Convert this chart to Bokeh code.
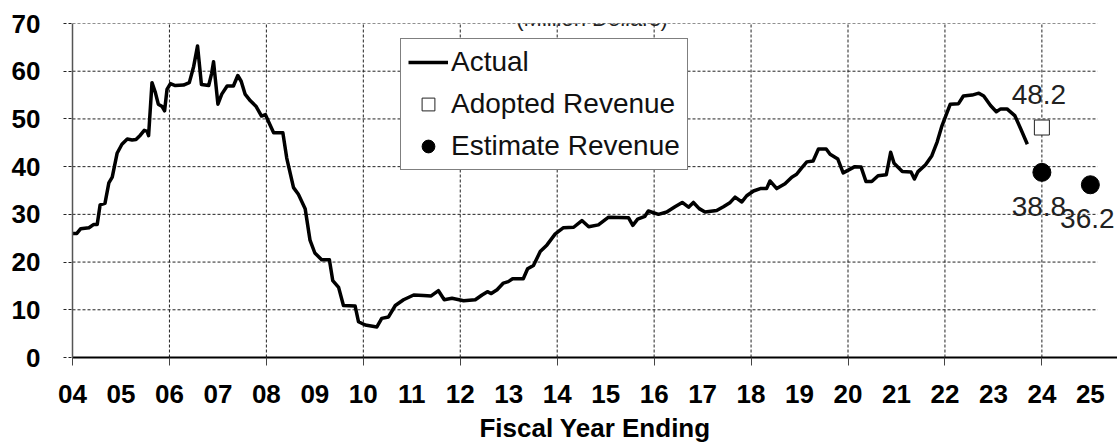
from bokeh.plotting import figure
from bokeh.models import Range1d, FixedTicker, LinearAxis, Legend, LegendItem, Label
from bokeh.embed import file_html
from bokeh.resources import INLINE

# ---------------- data ----------------
actual_year = [
    2004.00, 2004.09, 2004.17, 2004.34, 2004.44, 2004.51, 2004.57, 2004.67, 2004.75, 2004.82,
    2004.92, 2005.02, 2005.13, 2005.23, 2005.31, 2005.40, 2005.48, 2005.54, 2005.57, 2005.64,
    2005.71, 2005.77, 2005.85, 2005.90, 2005.95, 2006.02, 2006.12, 2006.29, 2006.41, 2006.50,
    2006.58, 2006.66, 2006.81, 2006.87, 2006.91, 2007.00, 2007.08, 2007.19, 2007.32, 2007.41,
    2007.48, 2007.56, 2007.67, 2007.79, 2007.90, 2007.98, 2008.05, 2008.15, 2008.34, 2008.42,
    2008.56, 2008.66, 2008.80, 2008.90, 2009.00, 2009.14, 2009.30, 2009.37, 2009.49, 2009.59,
    2009.83, 2009.90, 2010.04, 2010.28, 2010.38, 2010.52, 2010.66, 2010.83, 2011.04, 2011.24,
    2011.40, 2011.55, 2011.67, 2011.83, 2012.07, 2012.31, 2012.45, 2012.56, 2012.64, 2012.76,
    2012.89, 2012.99, 2013.08, 2013.30, 2013.39, 2013.51, 2013.65, 2013.79, 2013.96, 2014.13,
    2014.34, 2014.51, 2014.65, 2014.85, 2015.06, 2015.47, 2015.56, 2015.66, 2015.81, 2015.88,
    2016.09, 2016.26, 2016.43, 2016.58, 2016.71, 2016.81, 2016.93, 2017.05, 2017.29, 2017.43,
    2017.57, 2017.67, 2017.81, 2017.91, 2018.05, 2018.19, 2018.32, 2018.39, 2018.53, 2018.70,
    2018.84, 2018.94, 2019.04, 2019.15, 2019.28, 2019.39, 2019.55, 2019.63, 2019.79, 2019.90,
    2020.14, 2020.27, 2020.37, 2020.49, 2020.62, 2020.79, 2020.88, 2020.95, 2021.12, 2021.30,
    2021.37, 2021.44, 2021.60, 2021.73, 2021.84, 2021.94, 2022.11, 2022.28, 2022.38, 2022.56,
    2022.70, 2022.80, 2022.94, 2023.06, 2023.15, 2023.28, 2023.44, 2023.56, 2023.70,
]
actual_value = [
    26.0, 26.0, 27.0, 27.2, 27.9, 27.9, 32.0, 32.3, 36.6, 37.8,
    42.8, 44.7, 45.8, 45.6, 45.7, 46.6, 47.6, 47.4, 46.5, 57.6,
    55.5, 53.1, 52.6, 51.7, 56.2, 57.4, 57.0, 57.1, 57.6, 61.0,
    65.3, 57.2, 57.0, 59.5, 62.0, 53.1, 55.2, 56.9, 56.9, 59.1,
    57.9, 55.2, 53.8, 52.6, 50.6, 50.9, 49.3, 47.1, 47.1, 41.8,
    35.6, 34.2, 31.2, 24.6, 21.9, 20.5, 20.5, 16.1, 14.7, 10.9,
    10.8, 7.5, 6.8, 6.4, 8.2, 8.5, 10.9, 12.1, 13.1, 13.0,
    12.9, 14.0, 12.1, 12.4, 11.9, 12.1, 13.1, 13.8, 13.4, 14.2,
    15.6, 15.9, 16.5, 16.5, 18.6, 19.3, 22.2, 23.6, 25.9, 27.2,
    27.3, 28.7, 27.4, 27.8, 29.4, 29.3, 27.7, 29.0, 29.6, 30.7,
    30.0, 30.5, 31.6, 32.5, 31.5, 32.5, 31.2, 30.5, 30.8, 31.6,
    32.5, 33.6, 32.6, 33.9, 34.9, 35.4, 35.4, 37.0, 35.4, 36.4,
    37.8, 38.4, 39.7, 41.0, 41.2, 43.7, 43.7, 42.6, 41.6, 38.7,
    40.0, 39.9, 36.9, 36.9, 38.1, 38.3, 43.0, 40.7, 39.0, 38.9,
    37.4, 38.9, 40.4, 42.3, 45.2, 48.6, 53.1, 53.2, 54.8, 55.0,
    55.4, 54.8, 52.8, 51.5, 52.1, 52.1, 50.7, 48.0, 44.7,
]
adopted_year = [2024]
adopted_value = [48.2]
estimate_year = [2024, 2025]
estimate_value = [38.8, 36.2]

year_ticks = list(range(2004, 2026))
year_labels = ["04", "05", "06", "07", "08", "09", "10", "11", "12", "13", "14",
               "15", "16", "17", "18", "19", "20", "21", "22", "23", "24", "25"]
grid_years = list(range(2004, 2026, 2))
y_ticks = [0, 10, 20, 30, 40, 50, 60, 70]

series_names = ["Actual", "Adopted Revenue", "Estimate Revenue"]
title_text = "(Million Dollars)"
x_title = "Fiscal Year Ending"

# ---------------- figure ----------------
FONT = "Liberation Sans"
GRID = "#222222"
X_START, X_END = 2004, 2025.56      # frame spans the full width on the right
GRID_END = 2025.15                  # horizontal grid lines stop here
Y_START, Y_END = 0, 70

p = figure(width=1117, height=445,
           x_range=Range1d(X_START, X_END), y_range=Range1d(Y_START, Y_END),
           output_backend="svg", toolbar_location=None,
           min_border_left=72, min_border_right=0,
           min_border_top=23, min_border_bottom=82)
p.outline_line_color = None
p.background_fill_color = "white"
p.border_fill_color = "white"

# grid lines drawn as dashed segments from the tick values
p.xgrid.grid_line_color = None
p.ygrid.grid_line_color = None
p.segment(x0=grid_years, y0=[Y_START] * len(grid_years),
          x1=grid_years, y1=[Y_END] * len(grid_years),
          line_color=GRID, line_width=1, line_dash="3 2")
p.segment(x0=[X_START] * len(y_ticks), y0=y_ticks,
          x1=[GRID_END] * len(y_ticks), y1=y_ticks,
          line_color=GRID, line_width=1, line_dash="3 2")

# y axis
ya = p.yaxis[0]
ya.ticker = FixedTicker(ticks=y_ticks)
ya.axis_line_color = "#555555"
ya.axis_line_width = 1.5
ya.major_tick_out = 9
ya.major_tick_in = 0
ya.major_tick_line_color = GRID
ya.major_tick_line_dash = "3 2"
ya.minor_tick_out = 0
ya.minor_tick_in = 0
ya.major_label_text_font = FONT
ya.major_label_text_font_size = "26px"
ya.major_label_text_font_style = "bold"
ya.major_label_text_color = "black"
ya.major_label_standoff = 23

# x axis (tick marks every two years + axis line)
xa = p.xaxis[0]
xa.ticker = FixedTicker(ticks=grid_years)
xa.axis_line_color = "black"
xa.axis_line_width = 2
xa.major_tick_out = 8
xa.major_tick_in = 0
xa.major_tick_line_color = "#444444"
xa.minor_tick_out = 0
xa.minor_tick_in = 0
xa.major_label_text_font_size = "1px"
xa.major_label_text_color = None
xa.major_label_standoff = 0

# x axis labels (every year)
xb = LinearAxis(ticker=FixedTicker(ticks=year_ticks),
                major_label_overrides=dict(zip(year_ticks, year_labels)))
xb.axis_line_color = None
xb.major_tick_out = 0
xb.major_tick_in = 0
xb.minor_tick_out = 0
xb.minor_tick_in = 0
xb.major_label_text_font = FONT
xb.major_label_text_font_size = "26px"
xb.major_label_text_font_style = "bold"
xb.major_label_text_color = "black"
xb.major_label_standoff = 19
xb.axis_label = x_title
xb.axis_label_text_font = FONT
xb.axis_label_text_font_size = "26px"
xb.axis_label_text_font_style = "bold"
xb.axis_label_text_color = "black"
xb.axis_label_standoff = 7
p.add_layout(xb, "below")

# ---------------- data glyphs ----------------
r_actual = p.line(actual_year, actual_value, line_color="black", line_width=3.5,
                  line_join="round")
r_adopted = p.scatter(adopted_year, adopted_value, marker="square", size=15,
                      fill_color="white", line_color="#222222", line_width=1)
r_est = p.scatter(estimate_year, estimate_value, marker="circle", size=18,
                  fill_color="black", line_color="black")

# value labels
for yr, v in zip(adopted_year, adopted_value):
    p.add_layout(Label(x=yr, y=v, text=f"{v:.1f}", text_align="center",
                       text_baseline="alphabetic", x_offset=-3, y_offset=33,
                       text_font=FONT, text_font_size="28px", text_color="#222222"))
for yr, v in zip(estimate_year, estimate_value):
    p.add_layout(Label(x=yr, y=v, text=f"{v:.1f}", text_align="center",
                       text_baseline="alphabetic", x_offset=-3, y_offset=-34,
                       text_font=FONT, text_font_size="28px", text_color="#222222"))

# title at the top
p.add_layout(Label(x=(X_START + GRID_END) / 2, y=Y_END, text=title_text, text_align="center",
                   text_baseline="alphabetic", x_offset=7, y_offset=5,
                   text_font=FONT, text_font_size="22px", text_color="#222222"))

# ---------------- legend ----------------
legend = Legend(items=[LegendItem(label=series_names[0], renderers=[r_actual]),
                       LegendItem(label=series_names[1], renderers=[r_adopted]),
                       LegendItem(label=series_names[2], renderers=[r_est])],
                location=(328, 187))
legend.padding = 7
legend.spacing = 10
legend.margin = 0
legend.glyph_width = 40
legend.glyph_height = 32
legend.label_standoff = 3
legend.label_text_font = FONT
legend.label_text_font_size = "28px"
legend.label_text_color = "#111111"
legend.border_line_color = "black"
legend.border_line_width = 1
legend.background_fill_color = "white"
legend.background_fill_alpha = 1.0
p.add_layout(legend, "center")

open("out.html", "w").write(file_html(p, INLINE))
